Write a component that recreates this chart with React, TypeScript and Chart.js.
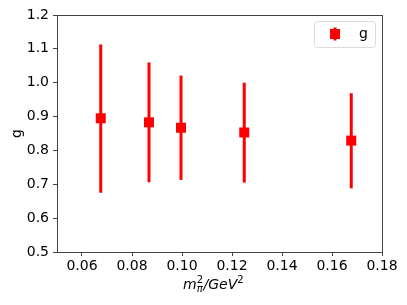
import React, { useEffect, useRef } from "react";
import { Chart, registerables } from "chart.js";

Chart.register(...registerables);

const xValues = [0.0675, 0.0868, 0.0996, 0.1249, 0.1677];
const yValues = [0.895, 0.883, 0.867, 0.853, 0.829];
const yLow = [0.675, 0.706, 0.713, 0.705, 0.688];
const yHigh = [1.113, 1.06, 1.021, 1.0, 0.969];
const xTicks = [0.06, 0.08, 0.1, 0.12, 0.14, 0.16, 0.18];
const yTicks = [0.5, 0.6, 0.7, 0.8, 0.9, 1.0, 1.1, 1.2];
const seriesLabel = "g";
const yTitle = "g";

const RED = "#ff0000";
const FONT = "'DejaVu Sans', sans-serif";

const decorPlugin = {
  id: "decor",
  beforeDatasetsDraw(chart: any) {
    const ctx = chart.ctx;
    const xs = chart.scales.x;
    const ys = chart.scales.y;
    ctx.save();
    ctx.strokeStyle = RED;
    ctx.lineWidth = 3;
    for (let i = 0; i < xValues.length; i++) {
      const px = xs.getPixelForValue(xValues[i]);
      ctx.beginPath();
      ctx.moveTo(px, ys.getPixelForValue(yLow[i]));
      ctx.lineTo(px, ys.getPixelForValue(yHigh[i]));
      ctx.stroke();
    }
    ctx.restore();
  },
  afterDraw(chart: any) {
    const ctx = chart.ctx;
    const a = chart.chartArea;
    ctx.save();
    // frame
    ctx.strokeStyle = "#444";
    ctx.lineWidth = 1;
    ctx.strokeRect(Math.round(a.left) + 0.5, Math.round(a.top) + 0.5, Math.round(a.right - a.left), Math.round(a.bottom - a.top));

    // legend
    const lx = 314.5, ly = 21.5, lw = 61, lh = 26, r = 3;
    ctx.beginPath();
    ctx.moveTo(lx + r, ly);
    ctx.lineTo(lx + lw - r, ly);
    ctx.arcTo(lx + lw, ly, lx + lw, ly + r, r);
    ctx.lineTo(lx + lw, ly + lh - r);
    ctx.arcTo(lx + lw, ly + lh, lx + lw - r, ly + lh, r);
    ctx.lineTo(lx + r, ly + lh);
    ctx.arcTo(lx, ly + lh, lx, ly + lh - r, r);
    ctx.lineTo(lx, ly + r);
    ctx.arcTo(lx, ly, lx + r, ly, r);
    ctx.closePath();
    ctx.fillStyle = "rgba(255,255,255,0.8)";
    ctx.fill();
    ctx.strokeStyle = "#dcdcdc";
    ctx.stroke();
    // legend marker
    const mx = 335, my = 34;
    ctx.strokeStyle = RED;
    ctx.lineWidth = 3;
    ctx.beginPath();
    ctx.moveTo(mx, my - 6.5);
    ctx.lineTo(mx, my + 6.5);
    ctx.stroke();
    ctx.fillStyle = RED;
    ctx.fillRect(mx - 5, my - 5, 10, 10);
    ctx.fillStyle = "#000";
    ctx.font = `14px ${FONT}`;
    ctx.textBaseline = "alphabetic";
    ctx.textAlign = "left";
    ctx.fillText(seriesLabel, 359, 38);

    // y title
    ctx.save();
    ctx.translate(21, (a.top + a.bottom) / 2);
    ctx.rotate(-Math.PI / 2);
    ctx.textAlign = "center";
    ctx.textBaseline = "alphabetic";
    ctx.font = `14px ${FONT}`;
    ctx.fillText(yTitle, 0, 0);
    ctx.restore();

    // x title: m_pi^2 / GeV^2
    const base = 289;
    let x = 183;
    ctx.textAlign = "left";
    ctx.font = `italic 14px ${FONT}`;
    ctx.fillText("m", x, base);
    x += ctx.measureText("m").width;
    ctx.font = `10px ${FONT}`;
    const w2 = ctx.measureText("2").width;
    ctx.fillText("2", x, base - 6);
    ctx.font = `italic 10px ${FONT}`;
    const wpi = ctx.measureText("π").width;
    ctx.fillText("π", x, base + 3);
    x += Math.max(w2, wpi) + 0.5;
    ctx.font = `italic 14px ${FONT}`;
    ctx.fillText("/GeV", x, base);
    x += ctx.measureText("/GeV").width;
    ctx.font = `10px ${FONT}`;
    ctx.fillText("2", x, base - 6);
    ctx.restore();
  },
};

export default function App() {
  const ref = useRef<HTMLCanvasElement | null>(null);
  useEffect(() => {
    document.body.style.margin = "0";
    const canvas = ref.current!;
    const chart = new Chart(canvas, {
      type: "scatter",
      data: {
        datasets: [
          {
            label: seriesLabel,
            data: xValues.map((v, i) => ({ x: v, y: yValues[i] })),
            pointStyle: "rect",
            pointRadius: 7.07,
            pointHoverRadius: 7.07,
            backgroundColor: RED,
            borderColor: RED,
            borderWidth: 0,
          },
        ],
      },
      options: {
        animation: false,
        responsive: false,
        maintainAspectRatio: false,
        layout: { padding: { top: 15, right: 25, left: 0, bottom: 0 } },
        plugins: { legend: { display: false }, tooltip: { enabled: false } },
        scales: {
          x: {
            type: "linear",
            min: 0.05,
            max: 0.18,
            afterBuildTicks: (s: any) => {
              s.ticks = xTicks.map((v) => ({ value: v }));
            },
            afterFit: (s: any) => {
              s.height = 53;
            },
            grid: { drawOnChartArea: false, tickLength: 4, color: "#444", lineWidth: 1 },
            border: { display: false },
            ticks: {
              color: "#000",
              font: { family: "'DejaVu Sans', sans-serif", size: 14 },
              padding: 2,
              maxRotation: 0,
              autoSkip: false,
              callback: (v: any) => Number(v).toFixed(2),
            },
          },
          y: {
            type: "linear",
            min: 0.5,
            max: 1.2,
            afterBuildTicks: (s: any) => {
              s.ticks = yTicks.map((v) => ({ value: v }));
            },
            afterFit: (s: any) => {
              s.width = 57;
            },
            grid: { drawOnChartArea: false, tickLength: 4, color: "#444", lineWidth: 1 },
            border: { display: false },
            ticks: {
              color: "#000",
              font: { family: "'DejaVu Sans', sans-serif", size: 14 },
              padding: 4,
              autoSkip: false,
              callback: (v: any) => Number(v).toFixed(1),
            },
          },
        },
      },
      plugins: [decorPlugin],
    });
    return () => chart.destroy();
  }, []);
  return (
    <div style={{ position: "absolute", left: 0, top: 0, width: 407, height: 305 }}>
      <canvas ref={ref} width={407} height={305} style={{ width: 407, height: 305 }} />
    </div>
  );
}
